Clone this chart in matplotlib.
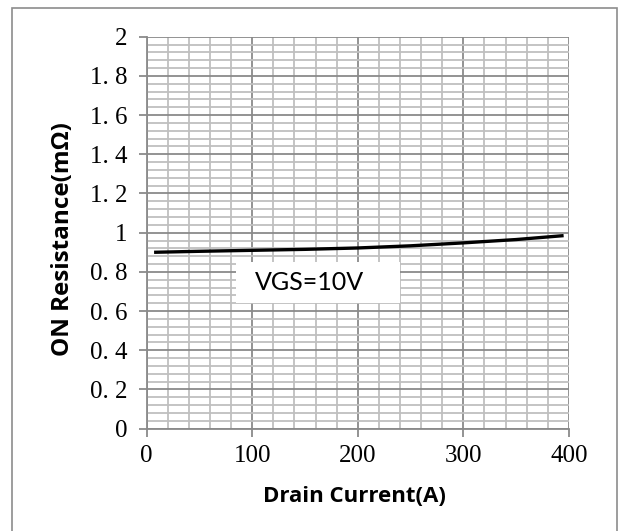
import matplotlib
matplotlib.use("Agg")
import matplotlib.pyplot as plt
from matplotlib.patches import Rectangle
from matplotlib.ticker import MultipleLocator


# drain current (A) and on resistance (mOhm)
drain_current = [7, 50, 100, 150, 200, 250, 300, 350, 395]
on_resistance = [0.900, 0.905, 0.910, 0.915, 0.922, 0.933, 0.948, 0.965, 0.985]

x_ticks = [0, 100, 200, 300, 400]
y_ticks = [0, 0.2, 0.4, 0.6, 0.8, 1.0, 1.2, 1.4, 1.6, 1.8, 2.0]
y_tick_labels = ["0", "0. 2", "0. 4", "0. 6", "0. 8", "1", "1. 2", "1. 4", "1. 6", "1. 8", "2"]

fig = plt.figure(figsize=(6.24, 5.31), dpi=100)

# grey frame round the whole chart (bottom edge falls outside the picture)
fig.patches.append(Rectangle((12 / 624, -10 / 531), 605 / 624, 533 / 531,
                             transform=fig.transFigure, fill=False,
                             edgecolor="#8c8c8c", linewidth=1.2))

ax = fig.add_axes([0.2351, 0.1927, 0.6766, 0.7382])
ax.set_xlim(0, 400)
ax.set_ylim(0, 2)

ax.xaxis.set_minor_locator(MultipleLocator(20))
ax.yaxis.set_minor_locator(MultipleLocator(0.04))
ax.grid(which="minor", color="#bfbfbf", linewidth=1.3)
ax.grid(which="major", color="#8a8a8a", linewidth=1.3)
ax.set_axisbelow(True)

ax.set_xticks(x_ticks)
ax.set_yticks(y_ticks)
ax.set_yticklabels(y_tick_labels)
ax.tick_params(which="major", length=6, width=1.3, color="#8a8a8a", direction="out",
               labelsize=18)
ax.tick_params(axis="y", pad=8)
ax.tick_params(axis="x", pad=6)
ax.tick_params(which="minor", length=0)
for lbl in ax.get_xticklabels() + ax.get_yticklabels():
    lbl.set_fontfamily("Liberation Serif")

for side in ["top", "right"]:
    ax.spines[side].set_visible(False)
for side in ["left", "bottom"]:
    ax.spines[side].set_color("#8a8a8a")
    ax.spines[side].set_linewidth(1.3)

ax.plot(drain_current, on_resistance, color="black", linewidth=2.4,
        solid_capstyle="butt", zorder=3)

# label box
ax.add_patch(Rectangle((85, 0.64), 155, 0.21, facecolor="white", edgecolor="none", zorder=4))
ax.text(154, 0.745, "VGS=10V", ha="center", va="center", fontsize=18,
        family="Lato", zorder=5)

ax.set_xlabel("Drain Current(A)", fontsize=16, fontweight="bold", family="Open Sans")
ax.set_ylabel("ON Resistance(mΩ)", fontsize=17.5, fontweight="bold", family="Open Sans")
ax.xaxis.set_label_coords(0.493, -0.172)
ax.xaxis.label.set_va("center")
ax.yaxis.set_label_coords(-0.198, 0.483)
ax.yaxis.label.set_va("center")

fig.savefig("out.png", dpi=100)
